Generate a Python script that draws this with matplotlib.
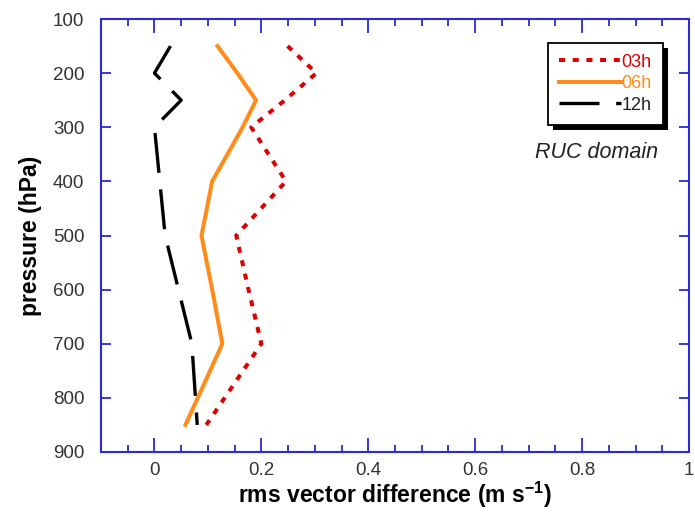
import matplotlib
matplotlib.use("Agg")
import matplotlib.pyplot as plt
from matplotlib.patches import Rectangle
from matplotlib.ticker import MultipleLocator, FuncFormatter
from matplotlib.transforms import IdentityTransform

plt.rcParams['font.family'] = ['Liberation Sans', 'DejaVu Sans']

# Data
pressure = [150, 200, 250, 300, 400, 500, 600, 700, 850]
rms_03h = [0.249, 0.303, 0.244, 0.181, 0.246, 0.153, 0.176, 0.200, 0.097]
rms_06h = [0.118, 0.155, 0.190, 0.165, 0.108, 0.088, 0.108, 0.127, 0.058]
rms_12h = [0.030, 0.000, 0.050, 0.000, 0.010, 0.020, 0.045, 0.070, 0.080]
labels = ['03h', '06h', '12h']
colors = ['#dd0000', '#ff8c1a', '#000000']
text_colors = ['#dd0000', '#ff8c1a', '#222222']

fig = plt.figure(figsize=(6.95, 5.12), dpi=100)
ax = fig.add_axes([101/695, 60/512, (689-101)/695, (452-19)/512])

ax.plot(rms_03h, pressure, color=colors[0], lw=2.9, linestyle=(0, (1.5, 1.9)),
        dash_capstyle='butt', label=labels[0])
ax.plot(rms_06h, pressure, color=colors[1], lw=2.9, label=labels[1])
ax.plot(rms_12h, pressure, color=colors[2], lw=2.4, linestyle=(0, (12, 5)),
        dash_capstyle='butt', label=labels[2])

ax.set_xlim(-0.1, 1.0)
ax.set_ylim(900, 100)
ax.xaxis.set_major_locator(MultipleLocator(0.2))
ax.xaxis.set_minor_locator(MultipleLocator(0.05))
ax.yaxis.set_major_locator(MultipleLocator(100))
ax.xaxis.set_major_formatter(FuncFormatter(lambda v, p: ('%g' % round(v, 2))))

spine_c = '#2a2ad8'
for s in ax.spines.values():
    s.set_color(spine_c)
    s.set_linewidth(1.5)
ax.tick_params(axis='both', which='both', direction='in', color=spine_c,
               top=True, right=True, labelsize=13.5, labelcolor='#333333', width=1.3)
ax.tick_params(axis='x', which='major', length=10, pad=7)
ax.tick_params(axis='x', which='minor', length=5)
ax.tick_params(axis='y', which='major', length=7, pad=12)

ax.set_xlabel('rms vector difference (m s$^{\\mathregular{-1}}$)', fontsize=16.5,
              fontweight='bold', labelpad=1)
ax.set_ylabel('pressure (hPa)', fontsize=16.5, fontweight='bold', labelpad=8)

ax.text(658, 512 - 153, 'RUC domain', transform=IdentityTransform(), ha='right', va='center',
        fontsize=15.5, style='italic', color='#222222')

leg = ax.legend(loc='upper right', bbox_to_anchor=(0.955, 0.945), fontsize=13,
                frameon=True, fancybox=False, edgecolor='black', handlelength=3.4,
                handletextpad=0.05, borderpad=0.6, labelspacing=0.25, borderaxespad=0,
                framealpha=1)
leg.get_frame().set_linewidth(1.3)
leg.set_zorder(10)
for t, c in zip(leg.get_texts(), text_colors):
    t.set_color(c)

fig.canvas.draw()
bb = leg.get_window_extent()
shadow = Rectangle((bb.x0 + 5, bb.y0 - 5), bb.width, bb.height,
                   facecolor='black', edgecolor='none', zorder=9,
                   transform=IdentityTransform(), clip_on=False)
ax.add_artist(shadow)
shadow.set_transform(IdentityTransform())

fig.savefig('out.png', dpi=100)
